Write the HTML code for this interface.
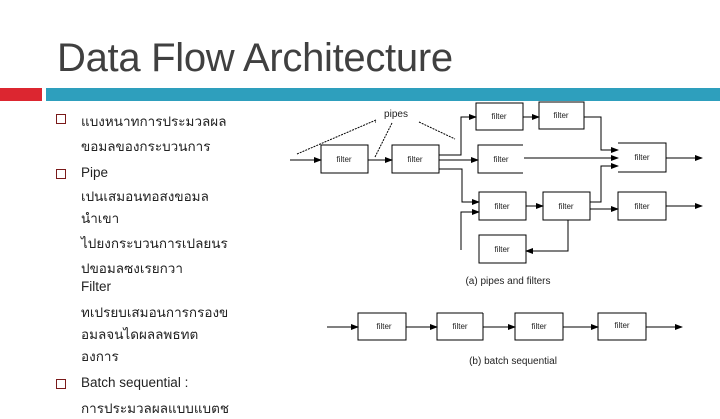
<!DOCTYPE html>
<html><head><meta charset="utf-8"><style>
body{margin:0;width:720px;height:405px;overflow:hidden;background:#fff;position:relative;font-family:"Liberation Sans","Noto Sans CJK SC",sans-serif}
.t{position:absolute;left:57px;top:36px;font-size:40px;color:#404040;letter-spacing:-0.3px}
.l{position:absolute;left:81px;font-size:13.5px;color:#222;white-space:nowrap}
.b{position:absolute;left:56px;width:8px;height:8px;border:1px solid #7a1a1a}
</style></head><body>
<div class="t">Data Flow Architecture</div>
<div style="position:absolute;left:0;top:88px;width:42px;height:13px;background:#dc2630"></div>
<div style="position:absolute;left:46px;top:88px;width:674px;height:13px;background:#2e9fbd"></div>
<div class="b" style="top:114px"></div>
<div class="l" style="top:110px">แบงหนาทการประมวลผล</div>
<div class="l" style="top:135px">ขอมลของกระบวนการ</div>
<div class="b" style="top:169px"></div>
<div class="l" style="top:165px">Pipe</div>
<div class="l" style="top:185px">เปนเสมอนทอสงขอมล</div>
<div class="l" style="top:207px">นำเขา</div>
<div class="l" style="top:232px">ไปยงกระบวนการเปลยนร</div>
<div class="l" style="top:257px">ปขอมลซงเรยกวา</div>
<div class="l" style="top:279px">Filter</div>
<div class="l" style="top:301px">ทเปรยบเสมอนการกรองข</div>
<div class="l" style="top:323px">อมลจนไดผลลพธทต</div>
<div class="l" style="top:345px">องการ</div>
<div class="b" style="top:379px"></div>
<div class="l" style="top:375px">Batch sequential :</div>
<div class="l" style="top:397px">การประมวลผลแบบแบตช</div>
<svg width="720" height="405" style="position:absolute;left:0;top:0" font-family="Liberation Sans, sans-serif" font-size="8">
<defs><marker id="a" markerWidth="8" markerHeight="6" refX="7" refY="3" orient="auto" markerUnits="userSpaceOnUse"><path d="M0,0L8,3L0,6z" fill="#000"/></marker></defs>
<g fill="none" stroke="#000" stroke-width="1">
<rect x="321" y="145" width="47" height="28"/>
<rect x="392" y="145" width="47" height="28"/>
<rect x="476" y="103" width="47" height="27"/>
<rect x="539" y="102" width="45" height="27"/>
<path d="M523,145H478V173H523"/>
<path d="M618,143H666V172H618"/>
<rect x="479" y="192" width="47" height="28"/>
<rect x="543" y="192" width="47" height="28"/>
<rect x="618" y="192" width="48" height="28"/>
<rect x="479" y="235" width="47" height="28"/>
<path d="M290,160H321" marker-end="url(#a)"/>
<path d="M368,160H392" marker-end="url(#a)"/>
<path d="M439,155H461V117H476" marker-end="url(#a)"/>
<path d="M523,117H539" marker-end="url(#a)"/>
<path d="M584,117H601V150H618" marker-end="url(#a)"/>
<path d="M439,160H478" marker-end="url(#a)"/>
<path d="M524,158H618" marker-end="url(#a)"/>
<path d="M439,169H462V202H479" marker-end="url(#a)"/>
<path d="M461,250V212H479" marker-end="url(#a)"/>
<path d="M526,206H543" marker-end="url(#a)"/>
<path d="M590,202H601V166H618" marker-end="url(#a)"/>
<path d="M590,209H618" marker-end="url(#a)"/>
<path d="M568,220V251H526" marker-end="url(#a)"/>
<path d="M666,158H702" marker-end="url(#a)"/>
<path d="M666,206H702" marker-end="url(#a)"/>
<path d="M297,154L376,120M375,122L376,122M392,123L375,157M419,122L455,139" stroke-dasharray="2,1"/>
<rect x="358" y="313" width="48" height="27"/>
<path d="M483,313H437V340H483V313"/>
<rect x="515" y="313" width="48" height="27"/>
<rect x="598" y="313" width="48" height="27"/>
<path d="M327,327H358" marker-end="url(#a)"/>
<path d="M406,327H437" marker-end="url(#a)"/>
<path d="M483,327H515" marker-end="url(#a)"/>
<path d="M563,327H598" marker-end="url(#a)"/>
<path d="M646,327H682" marker-end="url(#a)"/>
</g>
<g fill="#222" text-anchor="middle">
<text x="344" y="162">filter</text><text x="415" y="162">filter</text>
<text x="499" y="119">filter</text><text x="561" y="118">filter</text>
<text x="501" y="162">filter</text><text x="642" y="160">filter</text>
<text x="502" y="209">filter</text><text x="566" y="209">filter</text><text x="642" y="209">filter</text>
<text x="502" y="252">filter</text>
<text x="384" y="329">filter</text><text x="460" y="329">filter</text><text x="539" y="329">filter</text><text x="622" y="328">filter</text>
<text x="396" y="117" font-size="10">pipes</text>
<text x="508" y="284" font-size="10">(a)  pipes and filters</text>
<text x="513" y="364" font-size="10">(b)  batch sequential</text>
</g>
</svg>
</body></html>
